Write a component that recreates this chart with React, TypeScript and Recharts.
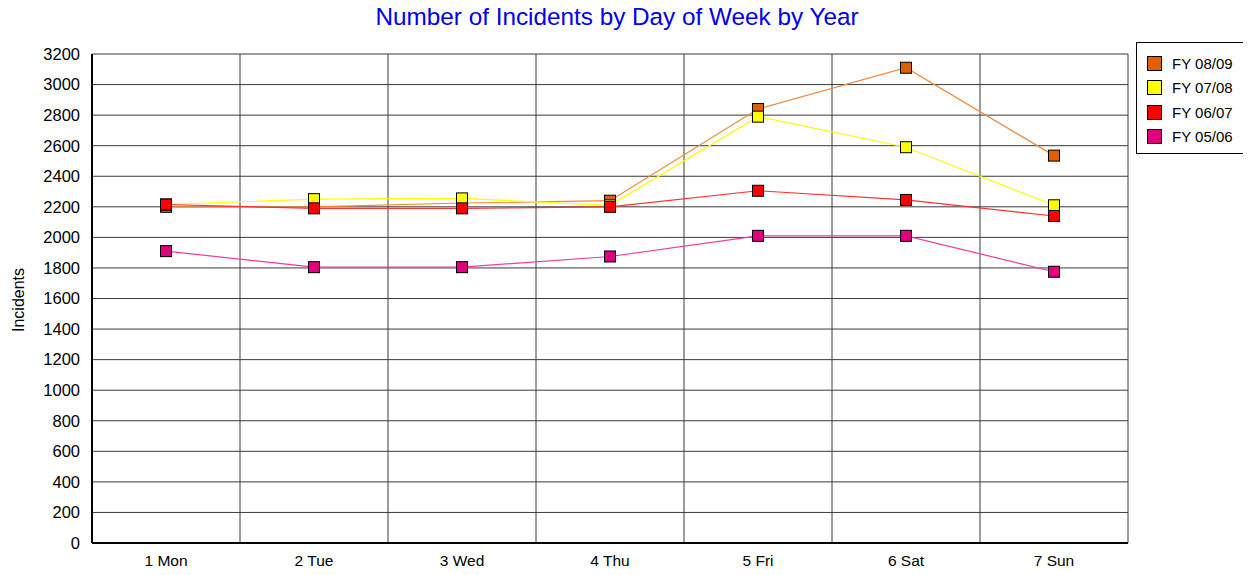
import React from "react";
import { LineChart, Line, XAxis, YAxis, CartesianGrid } from "recharts";

const days = ["1 Mon", "2 Tue", "3 Wed", "4 Thu", "5 Fri", "6 Sat", "7 Sun"];
const fy0809 = [2200, 2200, 2225, 2240, 2840, 3110, 2535];
const fy0708 = [2215, 2250, 2255, 2210, 2790, 2590, 2210];
const fy0607 = [2215, 2190, 2190, 2200, 2305, 2245, 2140];
const fy0506 = [1910, 1805, 1805, 1875, 2010, 2010, 1775];
const yTicks = [0, 200, 400, 600, 800, 1000, 1200, 1400, 1600, 1800, 2000, 2200, 2400, 2600, 2800, 3000, 3200];

const series = [
  { key: "fy0809", name: "FY 08/09", values: fy0809, line: "#f08a3c", fill: "#e06000" },
  { key: "fy0708", name: "FY 07/08", values: fy0708, line: "#ffff00", fill: "#ffff00" },
  { key: "fy0607", name: "FY 06/07", values: fy0607, line: "#ff3030", fill: "#ff0000" },
  { key: "fy0506", name: "FY 05/06", values: fy0506, line: "#f03ca0", fill: "#e0007f" },
];

const data = days.map((day, i) => {
  const row: Record<string, string | number> = { day };
  series.forEach((s) => (row[s.key] = s.values[i]));
  return row;
});

const FONT = "'Liberation Sans', Arial, sans-serif";

// square marker like the old chart control
const squareDot = (fill: string) => (props: any) => {
  const { cx, cy, index } = props;
  if (cx == null || cy == null) return <g key={index} />;
  return (
    <rect key={index} x={cx - 5.5} y={cy - 5.5} width={11} height={11} fill={fill} stroke="#000" strokeWidth={1} />
  );
};

export default function App() {
  return (
    <div style={{ position: "relative", width: 1251, height: 575, margin: -8, background: "#fff", fontFamily: FONT }}>
      <div style={{ position: "absolute", left: 317, top: 3, width: 600, textAlign: "center", fontSize: 24.3, color: "#0000ee" }}>
        Number of Incidents by Day of Week by Year
      </div>
      <LineChart width={1251} height={575} data={data} margin={{ top: 54, right: 123, bottom: 0, left: 32 }} style={{ overflow: "visible" }}>
        <CartesianGrid
          stroke="#3a3a3a"
          strokeOpacity={1}
          verticalCoordinatesGenerator={({ offset }: any) =>
            days.map((_, i) => offset.left + ((i + 1) * offset.width) / days.length)
          }
        />
        <XAxis
          dataKey="day"
          scale="band"
          height={32}
          tickLine={false}
          tickSize={0}
          tickMargin={12}
          axisLine={{ stroke: "#000", strokeWidth: 2 }}
          tick={{ fontSize: 15.5, fill: "#000", fontFamily: FONT }}
        />
        <YAxis
          width={60}
          domain={[0, 3200]}
          ticks={yTicks}
          interval={0}
          tickLine={false}
          tickSize={0}
          tickMargin={12}
          axisLine={{ stroke: "#000", strokeWidth: 2 }}
          tick={{ fontSize: 16.5, fill: "#000", fontFamily: FONT }}
        />
        <text x={18} y={300} transform="rotate(-90 18 300)" textAnchor="middle" dominantBaseline="central" fontSize={16} fontFamily={FONT} fill="#000">
          Incidents
        </text>
        {series.map((s) => (
          <Line
            key={s.key}
            dataKey={s.key}
            name={s.name}
            type="linear"
            stroke={s.line}
            strokeWidth={1.2}
            dot={squareDot(s.fill)}
            activeDot={false}
            isAnimationActive={false}
          />
        ))}
      </LineChart>
      <div style={{ position: "absolute", left: 1136, top: 42, width: 113, height: 112, border: "1px solid #000", boxSizing: "border-box", padding: "8px 0 0 10px" }}>
        {series.map((s) => (
          <div key={s.key} style={{ display: "flex", alignItems: "center", height: 24.5, fontSize: 15, color: "#000" }}>
            <span style={{ display: "inline-block", width: 15, height: 15, background: s.fill, border: "1px solid #000", boxSizing: "border-box", marginRight: 10 }} />
            {s.name}
          </div>
        ))}
      </div>
    </div>
  );
}
